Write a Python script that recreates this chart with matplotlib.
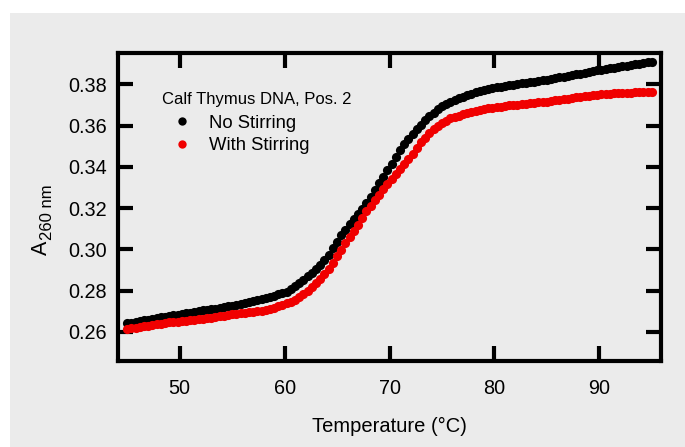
import matplotlib
matplotlib.use("Agg")
import matplotlib.pyplot as plt
from matplotlib.patches import Rectangle
from matplotlib.lines import Line2D

plt.rcParams['font.family'] = ['Liberation Sans', 'DejaVu Sans']

# Temperature (°C), 0.4 °C steps from 45 to 95
temperature = [round(45.0 + 0.4 * i, 1) for i in range(126)]

no_stirring = [
    0.2641, 0.2644, 0.2648, 0.2652, 0.2656, 0.2660, 0.2663, 0.2666, 0.2670, 0.2673,
    0.2677, 0.2680, 0.2683, 0.2687, 0.2690, 0.2693, 0.2696, 0.2700, 0.2704, 0.2707,
    0.2710, 0.2713, 0.2717, 0.2721, 0.2724, 0.2728, 0.2732, 0.2737, 0.2741, 0.2746,
    0.2751, 0.2756, 0.2761, 0.2766, 0.2771, 0.2776, 0.2782, 0.2787, 0.2796, 0.2809,
    0.2823, 0.2837, 0.2852, 0.2869, 0.2887, 0.2905, 0.2926, 0.2948, 0.2975, 0.3006,
    0.3038, 0.3068, 0.3096, 0.3122, 0.3146, 0.3172, 0.3198, 0.3226, 0.3256, 0.3288,
    0.3320, 0.3352, 0.3384, 0.3416, 0.3448, 0.3480, 0.3509, 0.3536, 0.3562, 0.3584,
    0.3605, 0.3626, 0.3645, 0.3663, 0.3680, 0.3695, 0.3706, 0.3716, 0.3724, 0.3733,
    0.3741, 0.3749, 0.3756, 0.3763, 0.3768, 0.3773, 0.3778, 0.3783, 0.3787, 0.3790,
    0.3793, 0.3796, 0.3799, 0.3803, 0.3806, 0.3808, 0.3811, 0.3814, 0.3816, 0.3820,
    0.3823, 0.3827, 0.3830, 0.3834, 0.3838, 0.3842, 0.3845, 0.3849, 0.3853, 0.3857,
    0.3860, 0.3864, 0.3868, 0.3872, 0.3875, 0.3878, 0.3881, 0.3884, 0.3888, 0.3891,
    0.3894, 0.3897, 0.3900, 0.3904, 0.3907, 0.3910,
]

with_stirring = [
    0.2616, 0.2618, 0.2621, 0.2624, 0.2627, 0.2630, 0.2633, 0.2636, 0.2640, 0.2643,
    0.2646, 0.2648, 0.2649, 0.2651, 0.2654, 0.2656, 0.2658, 0.2661, 0.2663, 0.2666,
    0.2669, 0.2672, 0.2675, 0.2679, 0.2682, 0.2685, 0.2687, 0.2690, 0.2692, 0.2695,
    0.2697, 0.2700, 0.2703, 0.2707, 0.2712, 0.2718, 0.2724, 0.2731, 0.2739, 0.2747,
    0.2755, 0.2767, 0.2782, 0.2798, 0.2816, 0.2835, 0.2856, 0.2879, 0.2905, 0.2936,
    0.2968, 0.2999, 0.3030, 0.3060, 0.3090, 0.3120, 0.3152, 0.3184, 0.3213, 0.3239,
    0.3265, 0.3291, 0.3317, 0.3342, 0.3366, 0.3390, 0.3415, 0.3439, 0.3465, 0.3493,
    0.3520, 0.3542, 0.3564, 0.3583, 0.3600, 0.3615, 0.3625, 0.3635, 0.3643, 0.3649,
    0.3655, 0.3661, 0.3667, 0.3672, 0.3676, 0.3680, 0.3684, 0.3688, 0.3691, 0.3693,
    0.3696, 0.3698, 0.3700, 0.3702, 0.3705, 0.3707, 0.3709, 0.3711, 0.3713, 0.3715,
    0.3717, 0.3720, 0.3723, 0.3726, 0.3729, 0.3731, 0.3734, 0.3737, 0.3740, 0.3743,
    0.3745, 0.3748, 0.3751, 0.3753, 0.3754, 0.3755, 0.3757, 0.3758, 0.3759, 0.3760,
    0.3761, 0.3762, 0.3763, 0.3764, 0.3764, 0.3765,
]

x_ticks = [50, 60, 70, 80, 90]
y_ticks = [0.26, 0.28, 0.30, 0.32, 0.34, 0.36, 0.38]
y_tick_labels = ['0.26', '0.28', '0.30', '0.32', '0.34', '0.36', '0.38']

legend_title = 'Calf Thymus DNA, Pos. 2'
series_labels = ['No Stirring', 'With Stirring']
series_colors = ['#000000', '#f00000']

W, H = 685, 447
fig = plt.figure(figsize=(W / 100, H / 100), dpi=100)
fig.patch.set_facecolor('white')
bg = '#ebebeb'
fig.patches.append(Rectangle((10 / W, 0), 1 - 10 / W, 1 - 12.7 / H,
                             transform=fig.transFigure, facecolor=bg,
                             edgecolor='none', zorder=-10))

ax = fig.add_axes([117.8 / W, 1 - 361.2 / H, (661.2 - 117.8) / W, (361.2 - 52.5) / H])
ax.set_facecolor(bg)

ax.plot(temperature, no_stirring, 'o', color=series_colors[0], markersize=6.6,
        markeredgewidth=0, label=series_labels[0], clip_on=False)
ax.plot(temperature, with_stirring, 'o', color=series_colors[1], markersize=6.6,
        markeredgewidth=0, label=series_labels[1], clip_on=False)

ax.set_xlim(44.1, 95.9)
ax.set_ylim(0.2458, 0.3955)
ax.set_xticks(x_ticks)
ax.set_yticks(y_ticks)
ax.set_yticklabels(y_tick_labels)

for s in ax.spines.values():
    s.set_linewidth(3.0)
    s.set_color('black')

ax.tick_params(axis='both', which='major', direction='in', length=11, width=3.0,
               top=True, right=True, labelsize=14.3, colors='black')
ax.tick_params(axis='x', pad=13.0)
ax.tick_params(axis='y', pad=7.6)

# x-axis label
fig.text(389.5 / W, 1 - 431.7 / H, 'Temperature (°C)', fontsize=14.5,
         ha='center', va='baseline')
# y-axis label: "A" with subscript "260 nm"
fig.text(46.7 / W, 1 - 254.5 / H, 'A', fontsize=15.5, rotation=90,
         rotation_mode='anchor', ha='left', va='baseline')
fig.text(51.7 / W, 1 - 240.0 / H, '260 nm', fontsize=12.0, rotation=90,
         rotation_mode='anchor', ha='left', va='baseline')

# legend title + entries
fig.text(161.7 / W, 1 - 104.0 / H, legend_title, fontsize=12.0,
         ha='left', va='baseline')
handles = [Line2D([], [], marker='o', linestyle='none', color=c, markersize=6.0,
                  markeredgewidth=0) for c in series_colors]
leg = ax.legend(handles, series_labels, loc='upper left',
                bbox_to_anchor=(161.7 / W, 1 - 114.5 / H), bbox_transform=fig.transFigure,
                frameon=False, fontsize=13.3, borderpad=0,
                borderaxespad=0, handlelength=2.15, handletextpad=0.4,
                labelspacing=0.32, numpoints=1)

fig.savefig('out.png', dpi=100, facecolor=fig.get_facecolor())
